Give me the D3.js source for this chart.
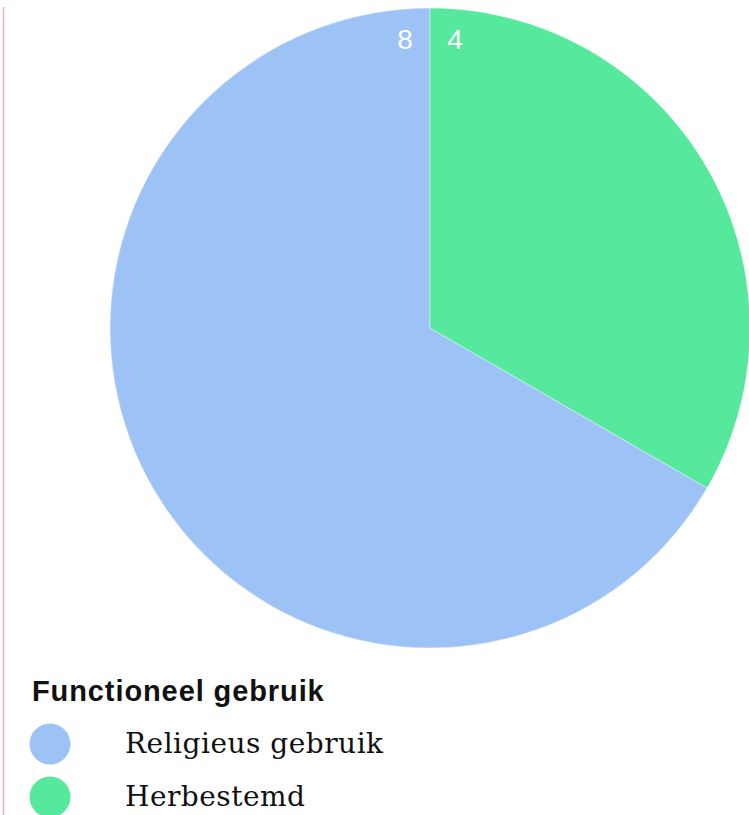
<!DOCTYPE html>
<html>
<head>
<meta charset="utf-8">
<script src="https://cdn.jsdelivr.net/npm/d3@7"></script>
<style>
  body { margin: 0; background: #fff; }
  svg { display: block; }
</style>
</head>
<body>
<div id="chart"></div>
<script>
// data
var categories = ["Religieus gebruik", "Herbestemd"];
var values = [8, 4];
var colors = ["#9dc2f5", "#56e89c"];
var legendTitle = "Functioneel gebruik";

var width = 749, height = 815;

var svg = d3.select("#chart")
  .append("svg")
  .attr("width", width)
  .attr("height", height);

// pink rule at the left
svg.append("line")
  .attr("x1", 3.5).attr("x2", 3.5)
  .attr("y1", 7).attr("y2", height)
  .attr("stroke", "#f4a6c6")
  .attr("stroke-width", 1.5);

var data = categories.map(function(c, i) {
  return { name: c, value: values[i], color: colors[i] };
});

var radius = 320;
var cx = 430, cy = 328;

var pie = d3.pie()
  .value(function(d) { return d.value; })
  .startAngle(2 * Math.PI / 3)
  .endAngle(2 * Math.PI / 3 + 2 * Math.PI);

var arc = d3.arc().innerRadius(0).outerRadius(radius);

var g = svg.append("g")
  .attr("transform", "translate(" + cx + "," + cy + ")");

var arcs = pie(data);

g.selectAll("path")
  .data(arcs)
  .enter()
  .append("path")
  .attr("d", arc)
  .attr("fill", function(d) { return d.data.color; })
  .attr("stroke", "#fff")
  .attr("stroke-width", 0.4);

// value labels sit near the top boundary (angle 0) of each slice
var labelR = 292;
var delta = 0.086;
function labelAngle(d) {
  // the slice that ends at the top gets its label just left of it,
  // the one that starts there just right of it
  return d.endAngle <= 2 * Math.PI + 0.001 ? d.endAngle - delta : d.startAngle + delta;
}
g.selectAll("text.val")
  .data(arcs)
  .enter()
  .append("text")
  .attr("class", "val")
  .text(function(d) { return d.data.value; })
  .attr("x", function(d) { return labelR * Math.sin(labelAngle(d)); })
  .attr("y", function(d) { return -labelR * Math.cos(labelAngle(d)) + 12; })
  .attr("text-anchor", "middle")
  .attr("font-family", "Liberation Sans, Arial, sans-serif")
  .attr("font-size", 28)
  .attr("fill", "#fff");

// legend
var legend = svg.append("g");

legend.append("text")
  .text(legendTitle)
  .attr("x", 32)
  .attr("y", 701)
  .attr("font-family", "Liberation Sans, Arial, sans-serif")
  .attr("font-weight", "bold")
  .attr("font-size", 29)
  .attr("letter-spacing", 0.9)
  .attr("fill", "#111");

var items = legend.selectAll("g.item")
  .data(data)
  .enter()
  .append("g")
  .attr("class", "item")
  .attr("transform", function(d, i) { return "translate(0," + (744 + i * 53) + ")"; });

items.append("circle")
  .attr("cx", 50)
  .attr("cy", 0)
  .attr("r", 20.5)
  .attr("fill", function(d) { return d.color; });

items.append("text")
  .text(function(d) { return d.name; })
  .attr("x", 125)
  .attr("y", 9)
  .attr("font-family", "DejaVu Serif, serif")
  .attr("font-size", 28)
  .attr("letter-spacing", 0.5)
  .attr("fill", "#111");
</script>
</body>
</html>
